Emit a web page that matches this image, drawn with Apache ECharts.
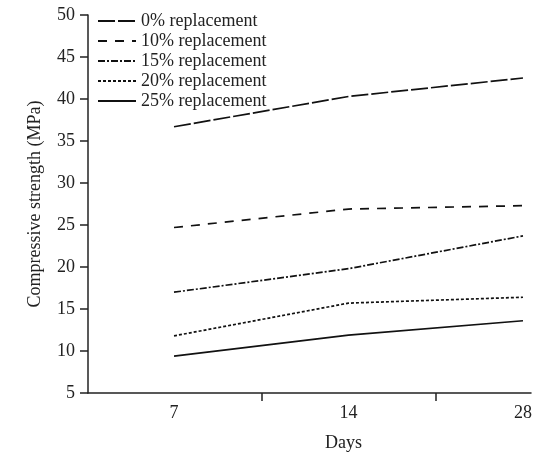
<!DOCTYPE html>
<html>
<head>
<meta charset="utf-8">
<script src="https://cdn.jsdelivr.net/npm/echarts@6/dist/echarts.min.js"></script>
<style>html,body{margin:0;padding:0;background:#fff;}#c{width:534px;height:456px;}</style>
</head>
<body>
<div id="c"></div>
<script>
var days = ['7', '14', '28'];
var seriesNames = ['0% replacement', '10% replacement', '15% replacement', '20% replacement', '25% replacement'];
var s0 = [36.7, 40.3, 42.5];
var s10 = [24.7, 26.9, 27.3];
var s15 = [17.0, 19.8, 23.7];
var s20 = [11.8, 15.7, 16.4];
var s25 = [9.4, 11.9, 13.6];
var yTicks = [5, 10, 15, 20, 25, 30, 35, 40, 45, 50];

var allValues = [s0, s10, s15, s20, s25];
var dashes = [[17, 3], [9, 8], [7, 2, 2, 2], [3, 2], 'solid'];
var FONT = 'Liberation Serif';

function pts(vals) { return vals.map(function (v, i) { return [i, v]; }); }

var chart = echarts.init(document.getElementById('c'));
chart.setOption({
  backgroundColor: '#fff',
  animation: false,
  grid: { left: 88, right: 3, top: 15, bottom: 63, containLabel: false, outerBoundsMode: 'none' },
  legend: {
    left: 92, top: 7, orient: 'vertical',
    itemWidth: 38, itemHeight: 14, itemGap: 2,
    itemStyle: { opacity: 0, color: 'rgba(0,0,0,0)', borderWidth: 0 },
    textStyle: { fontFamily: FONT, fontSize: 18, color: '#222' },
    data: seriesNames
  },
  xAxis: {
    type: 'value', min: -0.493, max: 2.046,
    name: 'Days', nameLocation: 'middle', nameGap: 41,
    nameTextStyle: { fontFamily: FONT, fontSize: 18, color: '#222', padding: [0, 0, 0, 68] },
    axisLine: { show: true, onZero: false, lineStyle: { color: '#222', width: 1.5 } },
    axisTick: { show: true, inside: false, length: 8, customValues: [0.5, 1.5], lineStyle: { color: '#222', width: 1.5 } },
    axisLabel: { customValues: [0, 1, 2], margin: 11, fontFamily: FONT, fontSize: 18, color: '#222',
      formatter: function (v) { return days[Math.round(v)]; } },
    splitLine: { show: false }
  },
  yAxis: {
    type: 'value', min: yTicks[0], max: yTicks[yTicks.length - 1], interval: 5,
    name: 'Compressive strength (MPa)', nameLocation: 'middle', nameGap: 44,
    nameTextStyle: { fontFamily: FONT, fontSize: 18, color: '#222' },
    axisLine: { show: true, onZero: false, lineStyle: { color: '#222', width: 1.5 } },
    axisTick: { show: true, inside: false, length: 8, lineStyle: { color: '#222', width: 1.5 } },
    axisLabel: { margin: 13, fontFamily: FONT, fontSize: 18, color: '#222' },
    splitLine: { show: false }
  },
  series: seriesNames.map(function (n, k) {
    return {
      name: n, type: 'line', data: pts(allValues[k]), symbol: 'none',
      lineStyle: { color: '#111', width: 1.7, type: dashes[k] },
      itemStyle: { color: '#111' }
    };
  })
});
</script>
</body>
</html>
